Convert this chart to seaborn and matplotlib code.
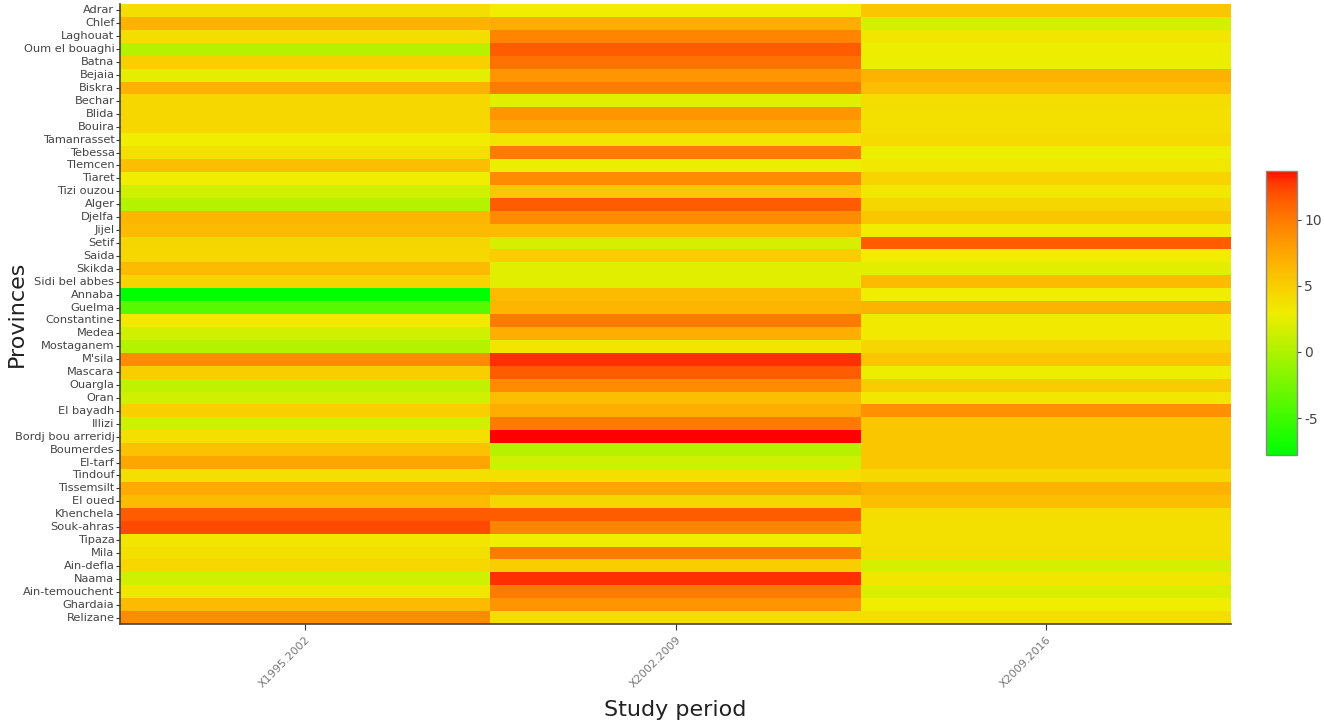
import numpy as np
import pandas as pd
import matplotlib
matplotlib.use("Agg")
import matplotlib.pyplot as plt
import seaborn as sns
from matplotlib.colors import ListedColormap

plt.rcParams["axes.unicode_minus"] = False

provinces = ["Adrar", "Chlef", "Laghouat", "Oum el bouaghi", "Batna", "Bejaia", "Biskra",
             "Bechar", "Blida", "Bouira", "Tamanrasset", "Tebessa", "Tlemcen", "Tiaret",
             "Tizi ouzou", "Alger", "Djelfa", "Jijel", "Setif", "Saida", "Skikda",
             "Sidi bel abbes", "Annaba", "Guelma", "Constantine", "Medea", "Mostaganem",
             "M'sila", "Mascara", "Ouargla", "Oran", "El bayadh", "Illizi",
             "Bordj bou arreridj", "Boumerdes", "El-tarf", "Tindouf", "Tissemsilt",
             "El oued", "Khenchela", "Souk-ahras", "Tipaza", "Mila", "Ain-defla", "Naama",
             "Ain-temouchent", "Ghardaia", "Relizane"]
periods = ["X1995.2002", "X2002.2009", "X2009.2016"]

p1995 = [4.0, 6.8, 4.0, 0.3, 4.8, 2.5, 6.8, 4.3, 4.3, 4.3, 3.0, 3.8, 6.0, 3.0, 1.5, 0.3,
         6.5, 6.3, 4.5, 4.3, 6.2, 4.7, -7.8, -3.8, 3.2, 1.5, 0.3, 9.0, 5.0, 0.8, 1.5, 4.8,
         1.5, 3.8, 5.8, 7.5, 3.8, 7.3, 6.2, 11.5, 12.2, 3.5, 3.8, 4.3, 1.5, 3.5, 6.3, 9.0]
p2002 = [3.0, 7.0, 9.5, 11.5, 10.5, 8.5, 10.0, 2.2, 8.5, 7.5, 3.5, 10.0, 2.7, 9.0, 5.5,
         11.5, 9.0, 6.3, 1.8, 5.0, 2.3, 2.2, 6.2, 6.5, 10.0, 7.0, 3.5, 13.0, 11.5, 9.0, 6.0,
         7.0, 10.0, 13.7, 0.5, 1.5, 3.8, 7.5, 4.5, 11.5, 9.5, 3.0, 10.0, 5.0, 13.0, 10.0,
         8.5, 4.0]
p2009 = [5.5, 1.8, 3.5, 2.8, 2.7, 6.8, 6.0, 4.0, 3.8, 3.8, 4.2, 2.8, 3.3, 4.7, 3.3, 4.5,
         5.5, 3.0, 11.5, 3.0, 2.3, 6.3, 3.0, 6.8, 3.2, 3.2, 4.5, 5.5, 2.8, 5.2, 3.3, 8.8,
         5.5, 5.5, 5.5, 5.5, 4.3, 6.8, 6.0, 4.0, 3.8, 3.8, 4.0, 1.8, 3.5, 2.0, 3.0, 4.0]

df = pd.DataFrame({periods[0]: p1995, periods[1]: p2002, periods[2]: p2009}, index=provinces)


# green -> yellow (RGB) and yellow -> red (CIELAB) colour ramp
def srgb_to_lab(rgb):
    c = np.asarray(rgb, float)
    lin = np.where(c <= 0.04045, c / 12.92, ((c + 0.055) / 1.055) ** 2.4)
    M = np.array([[0.4124, 0.3576, 0.1805], [0.2126, 0.7152, 0.0722], [0.0193, 0.1192, 0.9505]])
    xyz = M @ lin / np.array([0.95047, 1.0, 1.08883])
    f = np.where(xyz > 0.008856, np.cbrt(xyz), 7.787 * xyz + 16 / 116)
    return np.array([116 * f[1] - 16, 500 * (f[0] - f[1]), 200 * (f[1] - f[2])])


def lab_to_srgb(lab):
    L, a, b = lab
    fy = (L + 16) / 116
    fx = fy + a / 500
    fz = fy - b / 200
    f = np.array([fx, fy, fz])
    xyz = np.where(f ** 3 > 0.008856, f ** 3, (f - 16 / 116) / 7.787) * np.array([0.95047, 1.0, 1.08883])
    Minv = np.array([[3.2406, -1.5372, -0.4986], [-0.9689, 1.8758, 0.0415], [0.0557, -0.2040, 1.0570]])
    lin = np.clip(Minv @ xyz, 0, 1)
    c = np.where(lin <= 0.0031308, 12.92 * lin, 1.055 * lin ** (1 / 2.4) - 0.055)
    return np.clip(c, 0, 1)


green = np.array([0.0, 1.0, 0.0])
yellow = np.array([0.94, 0.93, 0.0])
red = np.array([1.0, 0.0, 0.0])
lab_y, lab_r = srgb_to_lab(yellow), srgb_to_lab(red)
cols = []
for t in np.linspace(0, 1, 256):
    if t <= 0.5:
        u = t / 0.5
        cols.append(green * (1 - u) + yellow * u)
    else:
        u = (t - 0.5) / 0.5
        cols.append(lab_to_srgb(lab_y * (1 - u) + lab_r * u))
cmap = ListedColormap(cols)

vmin, vmax = -7.8, 13.7

fig = plt.figure(figsize=(13.24, 7.26), dpi=100)
ax = fig.add_axes([120 / 1324, 1 - 624 / 726, (1231 - 120) / 1324, (624 - 4) / 726])
cax = fig.add_axes([1266 / 1324, 1 - 455 / 726, 31 / 1324, 284 / 726])

sns.heatmap(df, ax=ax, cmap=cmap, vmin=vmin, vmax=vmax, cbar=True, cbar_ax=cax,
            yticklabels=True, xticklabels=True)

ax.set_xlabel("Study period", fontsize=16, color="#222222")
ax.set_ylabel("Provinces", fontsize=16, color="#222222")
ax.xaxis.set_label_coords(0.5, -(700 - 624) / 620)
ax.yaxis.set_label_coords(-(120 - 27) / 1111, 0.5)
ax.tick_params(axis="y", labelsize=8.2, length=3, colors="#333333", pad=1)
ax.tick_params(axis="x", labelsize=8, length=4, colors="#333333", labelcolor="#777777")
for lab in ax.get_yticklabels():
    lab.set_color("#444444")
plt.setp(ax.get_xticklabels(), rotation=45, ha="right", rotation_mode="anchor")
for side in ["left", "bottom"]:
    ax.spines[side].set_visible(True)
    ax.spines[side].set_color("#444444")
    ax.spines[side].set_linewidth(1.2)

cbar = ax.collections[0].colorbar
cbar.set_ticks([-5, 0, 5, 10])
cbar.ax.tick_params(labelsize=10, length=3, colors="#444444", pad=2)
cbar.outline.set_edgecolor("#888888")
cbar.outline.set_linewidth(1)

fig.savefig("out.png", dpi=100)
